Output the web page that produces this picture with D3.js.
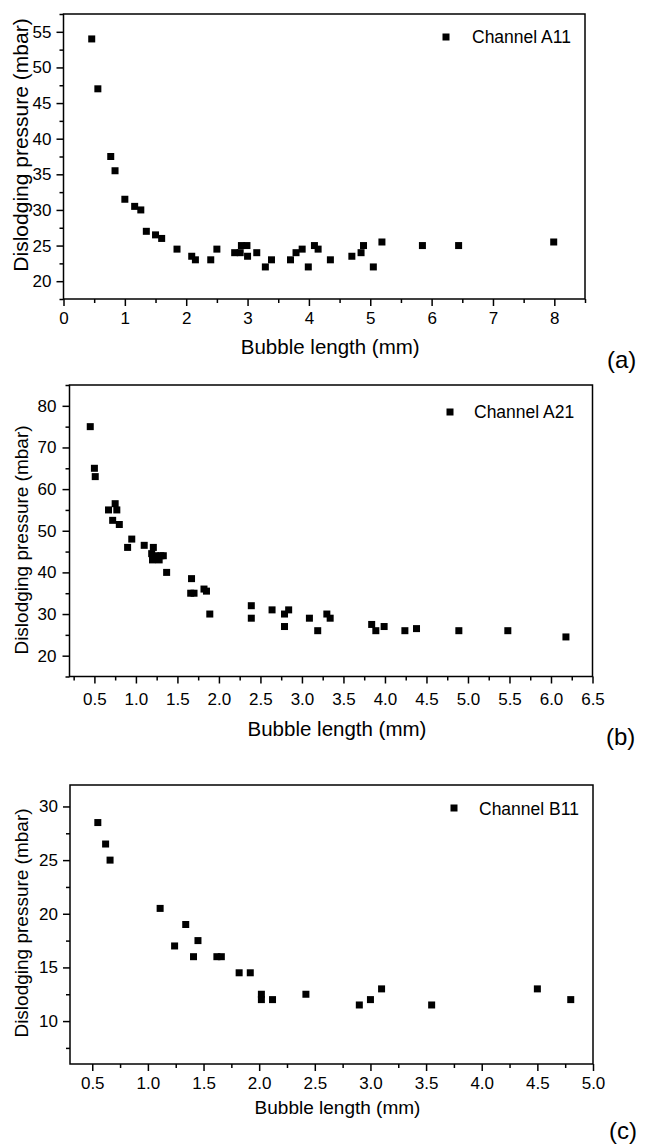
<!DOCTYPE html>
<html lang="en">

<head>
    <meta charset="UTF-8">
    <title>Dislodging pressure vs bubble length</title>
    <style>
        body {
            margin: 0;
            background: #fff;
        }

        svg {
            display: block;
            font-family: "Liberation Sans", Arial, sans-serif;
        }

        .axis text {
            font-size: 17px;
            fill: #000;
        }

        .axis line {
            stroke: #000;
            stroke-width: 1.5;
        }

        .axis path {
            display: none;
        }

        .frame {
            fill: none;
            stroke: #000;
            stroke-width: 1.5;
        }
    </style>
</head>

<body>
    <script src="https://d3js.org/d3.v7.min.js"></script>
    <script>
        const width = 649;
        const height = 1144;

        // channel A11
        const lenA11 = [0.46, 0.56, 0.77, 0.84, 1.0, 1.16, 1.26, 1.35, 1.5, 1.6, 1.85, 2.09, 2.15, 2.4, 2.5,
            2.79, 2.88, 2.9, 2.99, 3.0, 3.15, 3.29, 3.39, 3.7, 3.79, 3.89, 3.99, 4.09, 4.15,
            4.35, 4.7, 4.85, 4.89, 5.05, 5.19, 5.85, 6.44, 7.99];
        const presA11 = [54, 47, 37.5, 35.5, 31.5, 30.5, 30, 27, 26.5, 26, 24.5, 23.5, 23, 23, 24.5,
            24, 24, 25, 25, 23.5, 24, 22, 23, 23, 24, 24.5, 22, 25, 24.5,
            23, 23.5, 24, 25, 22, 25.5, 25, 25, 25.5];

        // channel A21
        const lenA21 = [0.45, 0.5, 0.51, 0.67, 0.72, 0.75, 0.77, 0.8, 0.9, 0.95, 1.1,
            1.21, 1.19, 1.2, 1.24, 1.28, 1.3, 1.33, 1.37, 1.67, 1.66, 1.7, 1.82, 1.85, 1.89,
            2.39, 2.39, 2.64, 2.79, 2.84, 2.79, 3.09, 3.19, 3.3, 3.34,
            3.84, 3.89, 3.99, 4.24, 4.38, 4.89, 5.48, 6.18];
        const presA21 = [75, 65, 63, 55, 52.5, 56.5, 55, 51.5, 46, 48, 46.5,
            46, 44.5, 43, 44, 43, 44, 44, 40, 38.5, 35, 35, 36, 35.5, 30,
            32, 29, 31, 30, 31, 27, 29, 26, 30, 29,
            27.5, 26, 27, 26, 26.5, 26, 26, 24.5];

        // channel B11
        const lenB11 = [0.55, 0.62, 0.66, 1.11, 1.24, 1.34, 1.41, 1.45, 1.62, 1.66, 1.82, 1.92,
            2.02, 2.02, 2.12, 2.42, 2.9, 3.0, 3.1, 3.55, 4.5, 4.8];
        const presB11 = [28.5, 26.5, 25, 20.5, 17, 19, 16, 17.5, 16, 16, 14.5, 14.5,
            12.5, 12, 12, 12.5, 11.5, 12, 13, 11.5, 13, 12];

        // tick values
        const xMajorA = [0, 1, 2, 3, 4, 5, 6, 7, 8];
        const xMinorA = [0.5, 1.5, 2.5, 3.5, 4.5, 5.5, 6.5, 7.5, 8.5];
        const yMajorA = [20, 25, 30, 35, 40, 45, 50, 55];
        const yMinorA = [17.5, 22.5, 27.5, 32.5, 37.5, 42.5, 47.5, 52.5, 57.5];

        const xMajorB = [0.5, 1.0, 1.5, 2.0, 2.5, 3.0, 3.5, 4.0, 4.5, 5.0, 5.5, 6.0, 6.5];
        const xMinorB = [0.25, 0.75, 1.25, 1.75, 2.25, 2.75, 3.25, 3.75, 4.25, 4.75, 5.25, 5.75, 6.25];
        const yMajorB = [20, 30, 40, 50, 60, 70, 80];
        const yMinorB = [15, 25, 35, 45, 55, 65, 75, 85];

        const xMajorC = [0.5, 1.0, 1.5, 2.0, 2.5, 3.0, 3.5, 4.0, 4.5, 5.0];
        const xMinorC = [0.75, 1.25, 1.75, 2.25, 2.75, 3.25, 3.75, 4.25, 4.75];
        const yMajorC = [10, 15, 20, 25, 30];
        const yMinorC = [7.5, 12.5, 17.5, 22.5, 27.5];

        const panels = [
            {
                xs: lenA11, ys: presA11, name: 'Channel A11', tag: '(a)',
                xDomain: [0, 8.5], yDomain: [17.5, 57.5],
                xMajor: xMajorA, xMinor: xMinorA, yMajor: yMajorA, yMinor: yMinorA,
                xFmt: d3.format('d'), yFmt: d3.format('d'),
                left: 63.5, top: 14, right: 585, bottom: 299,
                xPad: 6, yPad: 5, xTitleY: 354, yTitleMid: 145, titleSize: 20.5, yTitleSize: 21,
                legend: [446, 37, 472, 43], tagPos: [607, 368]
            },
            {
                xs: lenA21, ys: presA21, name: 'Channel A21', tag: '(b)',
                xDomain: [0.2, 6.5], yDomain: [15, 85],
                xMajor: xMajorB, xMinor: xMinorB, yMajor: yMajorB, yMinor: yMinorB,
                xFmt: d3.format('.1f'), yFmt: d3.format('d'),
                left: 69.5, top: 385, right: 592.5, bottom: 676.5,
                xPad: 9, yPad: 6, xTitleY: 736, yTitleMid: 540, titleSize: 20.5, yTitleSize: 19,
                legend: [450, 412, 474, 418], tagPos: [606, 745]
            },
            {
                xs: lenB11, ys: presB11, name: 'Channel B11', tag: '(c)',
                xDomain: [0.3, 5.0], yDomain: [6, 32],
                xMajor: xMajorC, xMinor: xMinorC, yMajor: yMajorC, yMinor: yMinorC,
                xFmt: d3.format('.1f'), yFmt: d3.format('d'),
                left: 70, top: 785, right: 593, bottom: 1064,
                xPad: 6, yPad: 5, xTitleY: 1114, yTitleMid: 923, titleSize: 19, yTitleSize: 19,
                legend: [454, 808, 479, 815], tagPos: [609, 1139]
            }
        ];

        const svg = d3.select('body').append('svg').attr('width', width).attr('height', height);

        const render = function render(p) {
            const g = svg.append('g');

            const xScale = d3.scaleLinear().domain(p.xDomain).range([p.left, p.right]);
            const yScale = d3.scaleLinear().domain(p.yDomain).range([p.bottom, p.top]);

            // minor ticks first, then labelled ones
            g.append('g').attr('class', 'axis')
                .attr('transform', 'translate(0,' + p.bottom + ')')
                .call(d3.axisBottom(xScale).tickValues(p.xMinor).tickSize(4).tickFormat(''));
            g.append('g').attr('class', 'axis')
                .attr('transform', 'translate(0,' + p.bottom + ')')
                .call(d3.axisBottom(xScale).tickValues(p.xMajor).tickSize(7).tickPadding(p.xPad).tickFormat(p.xFmt));

            g.append('g').attr('class', 'axis')
                .attr('transform', 'translate(' + p.left + ',0)')
                .call(d3.axisLeft(yScale).tickValues(p.yMinor).tickSize(4).tickFormat(''));
            g.append('g').attr('class', 'axis')
                .attr('transform', 'translate(' + p.left + ',0)')
                .call(d3.axisLeft(yScale).tickValues(p.yMajor).tickSize(7).tickPadding(p.yPad).tickFormat(p.yFmt));

            g.append('rect')
                .attr('class', 'frame')
                .attr('x', p.left)
                .attr('y', p.top)
                .attr('width', p.right - p.left)
                .attr('height', p.bottom - p.top);

            const s = 7;
            g.selectAll('.pt')
                .data(p.xs)
                .enter()
                .append('rect')
                .attr('class', 'pt')
                .attr('x', function (d) {
                    return xScale(d) - s / 2;
                })
                .attr('y', function (d, i) {
                    return yScale(p.ys[i]) - s / 2;
                })
                .attr('width', s)
                .attr('height', s)
                .attr('fill', '#000');

            // legend
            g.append('rect')
                .attr('x', p.legend[0] - 3.5)
                .attr('y', p.legend[1] - 3.5)
                .attr('width', 7)
                .attr('height', 7)
                .attr('fill', '#000');
            g.append('text')
                .attr('x', p.legend[2])
                .attr('y', p.legend[3])
                .attr('font-size', 17.5)
                .text(p.name);

            // axis titles
            g.append('text')
                .attr('x', (p.left + p.right) / 2 + 6)
                .attr('y', p.xTitleY)
                .attr('text-anchor', 'middle')
                .attr('font-size', p.titleSize)
                .text('Bubble length (mm)');
            g.append('text')
                .attr('transform', 'translate(28,' + p.yTitleMid + ') rotate(-90)')
                .attr('text-anchor', 'middle')
                .attr('font-size', p.yTitleSize)
                .text('Dislodging pressure (mbar)');

            g.append('text')
                .attr('x', p.tagPos[0])
                .attr('y', p.tagPos[1])
                .attr('font-size', 24)
                .text(p.tag);
        };

        panels.forEach(render);
    </script>
</body>

</html>
